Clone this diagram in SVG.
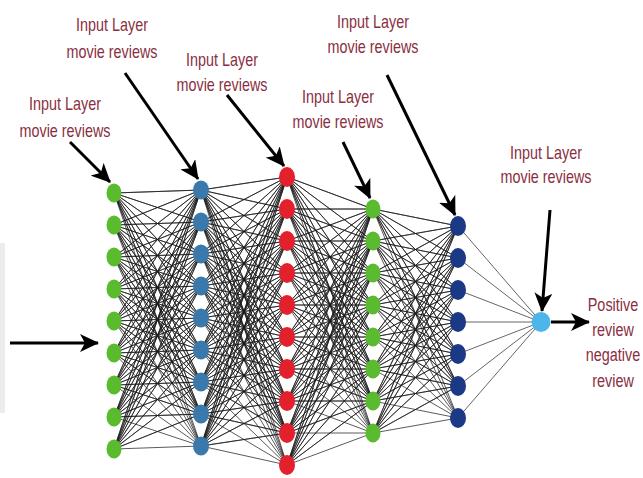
<svg xmlns="http://www.w3.org/2000/svg" width="643" height="478" viewBox="0 0 643 478">
  <style>
    .lbl { font-family: "Liberation Sans", Arial, sans-serif; font-size: 19px; fill: #8a2f42; text-anchor: middle; }
    .edge { fill: none; stroke: #1a1a1a; stroke-width: 0.9; stroke-opacity: 0.8; }
    .edge-out { fill: none; stroke: #666; stroke-width: 1; }
    .arrow { fill: none; stroke: #000; stroke-width: 3; marker-end: url(#head); }
    .g1 { fill: #5bbb2e; }
    .b2 { fill: #3b78ab; }
    .r3 { fill: #e3202c; }
    .g4 { fill: #5bbb2e; }
    .n5 { fill: #1a3a85; }
    .o6 { fill: #4cb6ea; }
  </style>
  <defs>
    <marker id="head" markerUnits="userSpaceOnUse" markerWidth="20" markerHeight="18" refX="18" refY="9" orient="auto">
      <path d="M0,0 L19,9 L0,18 L5,9 z" fill="#000"/>
    </marker>
  </defs>

  <rect width="643" height="478" fill="#fff"/>
  <!-- faint grey strip on the left margin -->
  <rect x="0" y="243" width="5" height="170" fill="#ececec"/>

  <g id="connectors">
    <!-- layer 1 to layer 2 -->
    <path class="edge" d="
      M114 193L201 190 114 193 201 222 114 193 201 254 114 193 201 286 114 193 201 318 114 193 201 350 114 193 201 382 114 193 201 414 114 193 201 446
      M114 225L201 190 114 225 201 222 114 225 201 254 114 225 201 286 114 225 201 318 114 225 201 350 114 225 201 382 114 225 201 414 114 225 201 446
      M114 257L201 190 114 257 201 222 114 257 201 254 114 257 201 286 114 257 201 318 114 257 201 350 114 257 201 382 114 257 201 414 114 257 201 446
      M114 289L201 190 114 289 201 222 114 289 201 254 114 289 201 286 114 289 201 318 114 289 201 350 114 289 201 382 114 289 201 414 114 289 201 446
      M114 321L201 190 114 321 201 222 114 321 201 254 114 321 201 286 114 321 201 318 114 321 201 350 114 321 201 382 114 321 201 414 114 321 201 446
      M114 353L201 190 114 353 201 222 114 353 201 254 114 353 201 286 114 353 201 318 114 353 201 350 114 353 201 382 114 353 201 414 114 353 201 446
      M114 385L201 190 114 385 201 222 114 385 201 254 114 385 201 286 114 385 201 318 114 385 201 350 114 385 201 382 114 385 201 414 114 385 201 446
      M114 417L201 190 114 417 201 222 114 417 201 254 114 417 201 286 114 417 201 318 114 417 201 350 114 417 201 382 114 417 201 414 114 417 201 446
      M114 449L201 190 114 449 201 222 114 449 201 254 114 449 201 286 114 449 201 318 114 449 201 350 114 449 201 382 114 449 201 414 114 449 201 446"/>
    <!-- layer 2 to layer 3 -->
    <path class="edge" d="
      M201 190L287 177 201 190 287 209 201 190 287 241 201 190 287 273 201 190 287 305 201 190 287 337 201 190 287 369 201 190 287 401 201 190 287 433 201 190 287 465
      M201 222L287 177 201 222 287 209 201 222 287 241 201 222 287 273 201 222 287 305 201 222 287 337 201 222 287 369 201 222 287 401 201 222 287 433 201 222 287 465
      M201 254L287 177 201 254 287 209 201 254 287 241 201 254 287 273 201 254 287 305 201 254 287 337 201 254 287 369 201 254 287 401 201 254 287 433 201 254 287 465
      M201 286L287 177 201 286 287 209 201 286 287 241 201 286 287 273 201 286 287 305 201 286 287 337 201 286 287 369 201 286 287 401 201 286 287 433 201 286 287 465
      M201 318L287 177 201 318 287 209 201 318 287 241 201 318 287 273 201 318 287 305 201 318 287 337 201 318 287 369 201 318 287 401 201 318 287 433 201 318 287 465
      M201 350L287 177 201 350 287 209 201 350 287 241 201 350 287 273 201 350 287 305 201 350 287 337 201 350 287 369 201 350 287 401 201 350 287 433 201 350 287 465
      M201 382L287 177 201 382 287 209 201 382 287 241 201 382 287 273 201 382 287 305 201 382 287 337 201 382 287 369 201 382 287 401 201 382 287 433 201 382 287 465
      M201 414L287 177 201 414 287 209 201 414 287 241 201 414 287 273 201 414 287 305 201 414 287 337 201 414 287 369 201 414 287 401 201 414 287 433 201 414 287 465
      M201 446L287 177 201 446 287 209 201 446 287 241 201 446 287 273 201 446 287 305 201 446 287 337 201 446 287 369 201 446 287 401 201 446 287 433 201 446 287 465"/>
    <!-- layer 3 to layer 4 -->
    <path class="edge" d="
      M287 177L373 209 287 177 373 241 287 177 373 273 287 177 373 305 287 177 373 337 287 177 373 369 287 177 373 401 287 177 373 433
      M287 209L373 209 287 209 373 241 287 209 373 273 287 209 373 305 287 209 373 337 287 209 373 369 287 209 373 401 287 209 373 433
      M287 241L373 209 287 241 373 241 287 241 373 273 287 241 373 305 287 241 373 337 287 241 373 369 287 241 373 401 287 241 373 433
      M287 273L373 209 287 273 373 241 287 273 373 273 287 273 373 305 287 273 373 337 287 273 373 369 287 273 373 401 287 273 373 433
      M287 305L373 209 287 305 373 241 287 305 373 273 287 305 373 305 287 305 373 337 287 305 373 369 287 305 373 401 287 305 373 433
      M287 337L373 209 287 337 373 241 287 337 373 273 287 337 373 305 287 337 373 337 287 337 373 369 287 337 373 401 287 337 373 433
      M287 369L373 209 287 369 373 241 287 369 373 273 287 369 373 305 287 369 373 337 287 369 373 369 287 369 373 401 287 369 373 433
      M287 401L373 209 287 401 373 241 287 401 373 273 287 401 373 305 287 401 373 337 287 401 373 369 287 401 373 401 287 401 373 433
      M287 433L373 209 287 433 373 241 287 433 373 273 287 433 373 305 287 433 373 337 287 433 373 369 287 433 373 401 287 433 373 433
      M287 465L373 209 287 465 373 241 287 465 373 273 287 465 373 305 287 465 373 337 287 465 373 369 287 465 373 401 287 465 373 433"/>
    <!-- layer 4 to layer 5 -->
    <path class="edge" d="
      M373 209L458 226 373 209 458 258 373 209 458 290 373 209 458 322 373 209 458 354 373 209 458 386 373 209 458 418
      M373 241L458 226 373 241 458 258 373 241 458 290 373 241 458 322 373 241 458 354 373 241 458 386 373 241 458 418
      M373 273L458 226 373 273 458 258 373 273 458 290 373 273 458 322 373 273 458 354 373 273 458 386 373 273 458 418
      M373 305L458 226 373 305 458 258 373 305 458 290 373 305 458 322 373 305 458 354 373 305 458 386 373 305 458 418
      M373 337L458 226 373 337 458 258 373 337 458 290 373 337 458 322 373 337 458 354 373 337 458 386 373 337 458 418
      M373 369L458 226 373 369 458 258 373 369 458 290 373 369 458 322 373 369 458 354 373 369 458 386 373 369 458 418
      M373 401L458 226 373 401 458 258 373 401 458 290 373 401 458 322 373 401 458 354 373 401 458 386 373 401 458 418
      M373 433L458 226 373 433 458 258 373 433 458 290 373 433 458 322 373 433 458 354 373 433 458 386 373 433 458 418"/>
    <!-- layer 5 to the output unit -->
    <path class="edge-out" d="M458 226L541 322M458 258L541 322M458 290L541 322M458 322L541 322M458 354L541 322M458 386L541 322M458 418L541 322"/>

    <!-- pointer arrows -->
    <line class="arrow" x1="70" y1="142" x2="110" y2="182"/>
    <line class="arrow" x1="125" y1="73" x2="198" y2="179"/>
    <line class="arrow" x1="227" y1="95" x2="284" y2="166"/>
    <line class="arrow" x1="343" y1="142" x2="370" y2="198"/>
    <line class="arrow" x1="387" y1="75" x2="455" y2="215"/>
    <line class="arrow" x1="550" y1="210" x2="542" y2="311"/>
    <line class="arrow" x1="10" y1="343" x2="98" y2="343"/>
    <line class="arrow" x1="551" y1="322" x2="589" y2="322"/>
  </g>

  <!-- layer 1 (green) -->
  <g id="l1-1"><ellipse class="g1" cx="114" cy="193" rx="7.5" ry="9.5"/></g>
  <g id="l1-2"><ellipse class="g1" cx="114" cy="225" rx="7.5" ry="9.5"/></g>
  <g id="l1-3"><ellipse class="g1" cx="114" cy="257" rx="7.5" ry="9.5"/></g>
  <g id="l1-4"><ellipse class="g1" cx="114" cy="289" rx="7.5" ry="9.5"/></g>
  <g id="l1-5"><ellipse class="g1" cx="114" cy="321" rx="7.5" ry="9.5"/></g>
  <g id="l1-6"><ellipse class="g1" cx="114" cy="353" rx="7.5" ry="9.5"/></g>
  <g id="l1-7"><ellipse class="g1" cx="114" cy="385" rx="7.5" ry="9.5"/></g>
  <g id="l1-8"><ellipse class="g1" cx="114" cy="417" rx="7.5" ry="9.5"/></g>
  <g id="l1-9"><ellipse class="g1" cx="114" cy="449" rx="7.5" ry="9.5"/></g>

  <!-- layer 2 (steel blue) -->
  <g id="l2-1"><ellipse class="b2" cx="201" cy="190" rx="8" ry="9.5"/></g>
  <g id="l2-2"><ellipse class="b2" cx="201" cy="222" rx="8" ry="9.5"/></g>
  <g id="l2-3"><ellipse class="b2" cx="201" cy="254" rx="8" ry="9.5"/></g>
  <g id="l2-4"><ellipse class="b2" cx="201" cy="286" rx="8" ry="9.5"/></g>
  <g id="l2-5"><ellipse class="b2" cx="201" cy="318" rx="8" ry="9.5"/></g>
  <g id="l2-6"><ellipse class="b2" cx="201" cy="350" rx="8" ry="9.5"/></g>
  <g id="l2-7"><ellipse class="b2" cx="201" cy="382" rx="8" ry="9.5"/></g>
  <g id="l2-8"><ellipse class="b2" cx="201" cy="414" rx="8" ry="9.5"/></g>
  <g id="l2-9"><ellipse class="b2" cx="201" cy="446" rx="8" ry="9.5"/></g>

  <!-- layer 3 (red) -->
  <g id="l3-1"><ellipse class="r3" cx="287" cy="177" rx="8" ry="10"/></g>
  <g id="l3-2"><ellipse class="r3" cx="287" cy="209" rx="8" ry="10"/></g>
  <g id="l3-3"><ellipse class="r3" cx="287" cy="241" rx="8" ry="10"/></g>
  <g id="l3-4"><ellipse class="r3" cx="287" cy="273" rx="8" ry="10"/></g>
  <g id="l3-5"><ellipse class="r3" cx="287" cy="305" rx="8" ry="10"/></g>
  <g id="l3-6"><ellipse class="r3" cx="287" cy="337" rx="8" ry="10"/></g>
  <g id="l3-7"><ellipse class="r3" cx="287" cy="369" rx="8" ry="10"/></g>
  <g id="l3-8"><ellipse class="r3" cx="287" cy="401" rx="8" ry="10"/></g>
  <g id="l3-9"><ellipse class="r3" cx="287" cy="433" rx="8" ry="10"/></g>
  <g id="l3-10"><ellipse class="r3" cx="287" cy="465" rx="8" ry="10"/></g>

  <!-- layer 4 (green) -->
  <g id="l4-1"><ellipse class="g4" cx="373" cy="209" rx="7.5" ry="9.5"/></g>
  <g id="l4-2"><ellipse class="g4" cx="373" cy="241" rx="7.5" ry="9.5"/></g>
  <g id="l4-3"><ellipse class="g4" cx="373" cy="273" rx="7.5" ry="9.5"/></g>
  <g id="l4-4"><ellipse class="g4" cx="373" cy="305" rx="7.5" ry="9.5"/></g>
  <g id="l4-5"><ellipse class="g4" cx="373" cy="337" rx="7.5" ry="9.5"/></g>
  <g id="l4-6"><ellipse class="g4" cx="373" cy="369" rx="7.5" ry="9.5"/></g>
  <g id="l4-7"><ellipse class="g4" cx="373" cy="401" rx="7.5" ry="9.5"/></g>
  <g id="l4-8"><ellipse class="g4" cx="373" cy="433" rx="7.5" ry="9.5"/></g>

  <!-- layer 5 (navy) -->
  <g id="l5-1"><ellipse class="n5" cx="458" cy="226" rx="8" ry="10"/></g>
  <g id="l5-2"><ellipse class="n5" cx="458" cy="258" rx="8" ry="10"/></g>
  <g id="l5-3"><ellipse class="n5" cx="458" cy="290" rx="8" ry="10"/></g>
  <g id="l5-4"><ellipse class="n5" cx="458" cy="322" rx="8" ry="10"/></g>
  <g id="l5-5"><ellipse class="n5" cx="458" cy="354" rx="8" ry="10"/></g>
  <g id="l5-6"><ellipse class="n5" cx="458" cy="386" rx="8" ry="10"/></g>
  <g id="l5-7"><ellipse class="n5" cx="458" cy="418" rx="8" ry="10"/></g>

  <!-- output unit -->
  <g id="out"><ellipse class="o6" cx="541" cy="322" rx="9.5" ry="10"/></g>

  <!-- layer captions -->
  <g id="label-1">
    <text class="lbl" x="65" y="110" textLength="72" lengthAdjust="spacingAndGlyphs">Input Layer</text>
    <text class="lbl" x="65" y="137" textLength="91" lengthAdjust="spacingAndGlyphs">movie reviews</text>
  </g>
  <g id="label-2">
    <text class="lbl" x="112" y="31" textLength="72" lengthAdjust="spacingAndGlyphs">Input Layer</text>
    <text class="lbl" x="112" y="58" textLength="91" lengthAdjust="spacingAndGlyphs">movie reviews</text>
  </g>
  <g id="label-3">
    <text class="lbl" x="222" y="66" textLength="72" lengthAdjust="spacingAndGlyphs">Input Layer</text>
    <text class="lbl" x="222" y="91" textLength="91" lengthAdjust="spacingAndGlyphs">movie reviews</text>
  </g>
  <g id="label-4">
    <text class="lbl" x="338" y="103" textLength="72" lengthAdjust="spacingAndGlyphs">Input Layer</text>
    <text class="lbl" x="338" y="128" textLength="91" lengthAdjust="spacingAndGlyphs">movie reviews</text>
  </g>
  <g id="label-5">
    <text class="lbl" x="373" y="28" textLength="72" lengthAdjust="spacingAndGlyphs">Input Layer</text>
    <text class="lbl" x="373" y="53" textLength="91" lengthAdjust="spacingAndGlyphs">movie reviews</text>
  </g>
  <g id="label-6">
    <text class="lbl" x="546" y="159" textLength="72" lengthAdjust="spacingAndGlyphs">Input Layer</text>
    <text class="lbl" x="546" y="183" textLength="91" lengthAdjust="spacingAndGlyphs">movie reviews</text>
  </g>
  <!-- output caption, drawn narrow by a horizontal scale -->
  <g id="label-out" transform="translate(613 0) scale(0.76 1)">
    <text class="lbl" x="0" y="311">Positive</text>
    <text class="lbl" x="0" y="336">review</text>
    <text class="lbl" x="0" y="361">negative</text>
    <text class="lbl" x="0" y="387">review</text>
  </g>
</svg>
